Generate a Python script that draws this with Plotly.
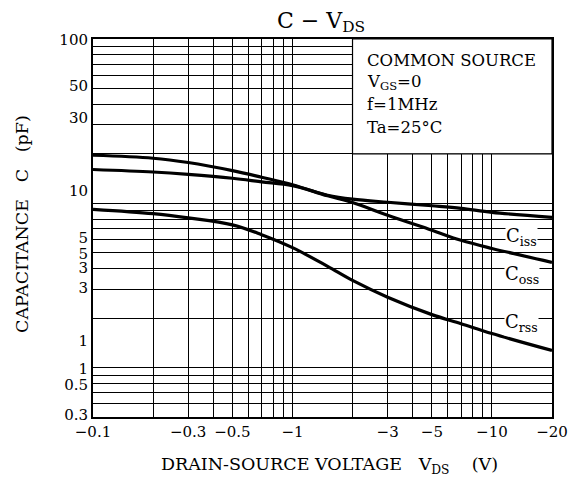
import plotly.graph_objects as go
import math

# ---- data ----
vds = [0.1, 0.2, 0.3, 0.5, 0.7, 1, 1.5, 2, 3, 5, 7, 10, 20]          # |VDS| (V)
ciss = [16.05, 15.5, 15.0, 14.2, 13.5, 12.8, 11.2, 10.6, 10.14, 9.66, 9.32, 8.81, 8.21]
coss = [19.6, 18.8, 17.7, 15.8, 14.4, 12.97, 11.1, 10.1, 8.45, 6.85, 5.95, 5.31, 4.37]
crss = [9.19, 8.65, 8.15, 7.39, 6.44, 5.37, 4.13, 3.39, 2.68, 2.10, 1.85, 1.61, 1.27]

x_tick_vals = [0.1, 0.3, 0.5, 1, 3, 5, 10, 20]
x_tick_text = ["\u22120.1", "\u22120.3", "\u22120.5", "\u22121", "\u22123", "\u22125", "\u221210", "\u221220"]
y_tick_vals = [99, 51.7, 33.0, 11.84, 6.2, 4.95, 4.07, 3.08, 1.46, 0.986, 0.788, 0.517]
y_tick_text = ["100", "50", "30", "10", "5", "5", "3", "3", "1", "1", "0.5", "0.3"]

x_grid = [0.2, 0.3, 0.4, 0.5, 0.6, 0.7, 0.8, 0.9, 1, 2, 3, 4, 5, 6, 7, 8, 9, 10]
y_grid = [0.6, 0.7, 0.8, 0.9, 1, 2, 3, 4, 5, 6, 7, 8, 9, 10, 20, 30, 40, 50, 60, 70, 80, 90]

series = [("C<sub>iss</sub>", ciss, 6.2), ("C<sub>oss</sub>", coss, 3.64), ("C<sub>rss</sub>", crss, 1.86)]
label_x = 14.1

cond_lines = ["COMMON SOURCE", "V<sub>GS</sub>=0", "f=1MHz", "Ta=25\u00b0C"]
cond_y = [74.5, 54.7, 40.2, 29.0]
cond_x = 2.3
box_x = [2, 20]
box_y = [20, 100]

FONT = "DejaVu Serif"

fig = go.Figure()
for name, vals, ly in series:
    fig.add_trace(go.Scatter(x=vds, y=vals, mode="lines", line=dict(color="black", width=3.2, shape="spline"),
                             showlegend=False, hoverinfo="skip"))
    fig.add_annotation(x=math.log10(label_x), y=math.log10(ly), xref="x", yref="y", text=name,
                       showarrow=False, bgcolor="white", font=dict(family=FONT, size=18, color="black"),
                       borderpad=0)

fig.add_shape(type="rect", xref="x", yref="y", x0=box_x[0], x1=box_x[1], y0=box_y[0], y1=box_y[1],
              fillcolor="white", line=dict(color="black", width=1.2), layer="between")

for t, yy in zip(cond_lines, cond_y):
    fig.add_annotation(x=math.log10(cond_x), y=math.log10(yy), xref="x", yref="y", text=t, showarrow=False,
                       xanchor="left", font=dict(family=FONT, size=16.5, color="black"))

axis_common = dict(type="log", showline=True, linecolor="black", linewidth=2, mirror=True,
                   showgrid=False, zeroline=False, tickfont=dict(family=FONT, size=15, color="black"),
                   tickmode="array", ticks="")

fig.update_xaxes(range=[math.log10(0.1), math.log10(20)], tickvals=x_tick_vals, ticktext=x_tick_text,
                 minor=dict(tickmode="array", tickvals=x_grid, showgrid=True, gridcolor="black", gridwidth=1.2),
                 **axis_common)
fig.update_yaxes(range=[math.log10(0.5), math.log10(100)], tickvals=y_tick_vals, ticktext=y_tick_text,
                 minor=dict(tickmode="array", tickvals=y_grid, showgrid=True, gridcolor="black", gridwidth=1.2),
                 **axis_common)

# plot area in page px = x 93..552, y 39..417
PW, PH = 459.0, 378.0
fig.add_annotation(x=(22 - 93) / PW, y=(417 - 224) / PH, xref="paper", yref="paper", xanchor="center",
                   yanchor="middle",
                   text="CAPACITANCE\u00a0\u00a0\u00a0C\u00a0\u00a0\u00a0(pF)", textangle=-90, showarrow=False,
                   font=dict(family=FONT, size=17.5, color="black"))
fig.add_annotation(x=(329 - 93) / PW, y=(417 - 466) / PH, xref="paper", yref="paper", xanchor="center",
                   yanchor="middle",
                   text="DRAIN-SOURCE VOLTAGE\u00a0\u00a0\u00a0V<sub>DS</sub>\u00a0\u00a0\u00a0\u00a0(V)", showarrow=False,
                   font=dict(family=FONT, size=17.5, color="black"))

fig.update_layout(
    width=579, height=485,
    margin=dict(l=85, r=35, t=31, b=76),
    paper_bgcolor="white", plot_bgcolor="white",
    title=dict(text="C \u2212 V<sub>DS</sub>", x=(321 - 8) / 579, xanchor="center", y=1 - 12 / 485, yanchor="middle",
               font=dict(family=FONT, size=22, color="black")),
    showlegend=False,
)

fig.write_html("out.html")
